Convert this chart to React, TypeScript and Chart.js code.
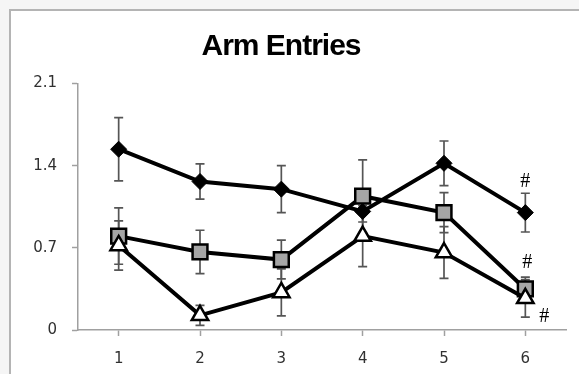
import React, { useEffect, useRef } from "react";
import { Chart, registerables } from "chart.js";

Chart.register(...registerables);

// ---- data ----
const categories = ["1", "2", "3", "4", "5", "6"];
const diamondValues = [1.54, 1.265, 1.2, 1.01, 1.42, 1.0];
const diamondErrors = [0.27, 0.15, 0.2, 0.09, 0.19, 0.165];
const squareValues = [0.8, 0.665, 0.6, 1.14, 1.0, 0.35];
const squareErrors = [0.24, 0.185, 0.165, 0.31, 0.17, 0.1];
const triangleValues = [0.72, 0.125, 0.32, 0.8, 0.66, 0.27];
const triangleErrors = [0.21, 0.085, 0.2, 0.26, 0.22, 0.16];
const yTicks = [0, 0.7, 1.4, 2.1];
const titleText = "Arm Entries";
const markSeries = [0, 1, 2];
const markIndex = [5, 5, 5];
const markText = ["#", "#", "#"];

// ---- styling (offsets of the "#" marks, in px) ----
const markOffsets = [
  { dx: 0, dy: -31 },
  { dx: 2, dy: -26 },
  { dx: 19, dy: 18 },
];

const errorsBySeries = [diamondErrors, squareErrors, triangleErrors];

const framePlugin = {
  id: "frame",
  beforeDraw(chart: any) {
    const ctx = chart.ctx;
    ctx.save();
    ctx.fillStyle = "#f5f5f5";
    ctx.fillRect(0, 0, chart.width, chart.height);
    ctx.fillStyle = "#ffffff";
    ctx.fillRect(10, 10, chart.width, chart.height);
    ctx.strokeStyle = "#b4b4b4";
    ctx.lineWidth = 2;
    ctx.beginPath();
    ctx.moveTo(10, chart.height + 2);
    ctx.lineTo(10, 10);
    ctx.lineTo(chart.width + 2, 10);
    ctx.stroke();
    ctx.fillStyle = "#000";
    ctx.font = "bold 30px 'Liberation Sans'";
    ctx.textAlign = "center";
    ctx.textBaseline = "alphabetic";
    try { (ctx as any).letterSpacing = "-1px"; } catch (e) {}
    ctx.fillText(titleText, 281, 55);
    ctx.restore();
  },
};

const errorBarPlugin = {
  id: "errorBars",
  beforeDatasetsDraw(chart: any) {
    const ctx = chart.ctx;
    const y = chart.scales.y;
    ctx.save();
    ctx.strokeStyle = "#555555";
    ctx.lineWidth = 1.7;
    chart.data.datasets.forEach((ds: any, i: number) => {
      const meta = chart.getDatasetMeta(i);
      const errs = errorsBySeries[i];
      meta.data.forEach((pt: any, j: number) => {
        const v = ds.data[j];
        const top = y.getPixelForValue(v + errs[j]);
        const bot = y.getPixelForValue(v - errs[j]);
        const x = pt.x;
        ctx.beginPath();
        ctx.moveTo(x, top);
        ctx.lineTo(x, bot);
        ctx.moveTo(x - 4.5, top);
        ctx.lineTo(x + 4.5, top);
        ctx.moveTo(x - 4.5, bot);
        ctx.lineTo(x + 4.5, bot);
        ctx.stroke();
      });
    });
    ctx.restore();
  },
};

const markPlugin = {
  id: "marks",
  afterDatasetsDraw(chart: any) {
    const ctx = chart.ctx;
    ctx.save();
    ctx.fillStyle = "#000";
    ctx.font = "20px 'Liberation Serif'";
    ctx.textAlign = "center";
    ctx.textBaseline = "middle";
    markSeries.forEach((s, k) => {
      const pt = chart.getDatasetMeta(s).data[markIndex[k]];
      ctx.fillText(markText[k], pt.x + markOffsets[k].dx, pt.y + markOffsets[k].dy);
    });
    ctx.restore();
  },
};

export default function App() {
  const ref = useRef<HTMLCanvasElement>(null);
  useEffect(() => {
    const tickFont = { family: "'DejaVu Sans'", size: 15 };
    const chart = new Chart(ref.current as HTMLCanvasElement, {
      type: "line",
      data: {
        labels: categories,
        datasets: [
          {
            data: diamondValues,
            borderColor: "#000",
            borderWidth: 4,
            pointStyle: "rectRot",
            pointRadius: 8,
            pointBackgroundColor: "#000",
            pointBorderColor: "#000",
            pointBorderWidth: 1,
            tension: 0,
            order: 3,
          },
          {
            data: squareValues,
            borderColor: "#000",
            borderWidth: 4,
            pointStyle: "rect",
            pointRadius: 10.5,
            pointBackgroundColor: "#a6a6a6",
            pointBorderColor: "#000",
            pointBorderWidth: 2.5,
            tension: 0,
            order: 2,
          },
          {
            data: triangleValues,
            borderColor: "#000",
            borderWidth: 4,
            pointStyle: "triangle",
            pointRadius: 9.5,
            pointBackgroundColor: "#fff",
            pointBorderColor: "#000",
            pointBorderWidth: 2.5,
            tension: 0,
            order: 1,
          },
        ],
      },
      options: {
        animation: false,
        responsive: false,
        layout: { padding: { left: 0, right: 9, top: 83.5, bottom: 0 } },
        plugins: {
          legend: { display: false },
          tooltip: { enabled: false },
          title: { display: false },
        },
        scales: {
          x: {
            type: "category",
            offset: true,
            grid: {
              drawOnChartArea: false,
              drawTicks: true,
              tickLength: 6,
              tickColor: "#a0a0a0",
              tickWidth: 1.5,
              offset: false,
            },
            border: { display: true, color: "#a0a0a0", width: 1.5 },
            ticks: { color: "#303030", font: tickFont, padding: 14, maxRotation: 0 },
            afterFit(scale: any) {
              scale.height = 44;
            },
          },
          y: {
            min: 0,
            max: 2.1,
            grid: {
              drawOnChartArea: false,
              drawTicks: true,
              tickLength: 6,
              tickColor: "#a0a0a0",
              tickWidth: 1.5,
            },
            border: { display: true, color: "#a0a0a0", width: 1.5 },
            ticks: { color: "#303030", font: tickFont, padding: 15 },
            afterBuildTicks(scale: any) {
              scale.ticks = yTicks.map((v) => ({ value: v }));
            },
            afterFit(scale: any) {
              scale.width = 78;
            },
          },
        },
      },
      plugins: [framePlugin, errorBarPlugin, markPlugin],
    } as any);
    return () => chart.destroy();
  }, []);
  return (
    <div style={{ position: "absolute", left: 0, top: 0, width: 579, height: 374 }}>
      <canvas ref={ref} width={579} height={374} style={{ display: "block" }} />
    </div>
  );
}
